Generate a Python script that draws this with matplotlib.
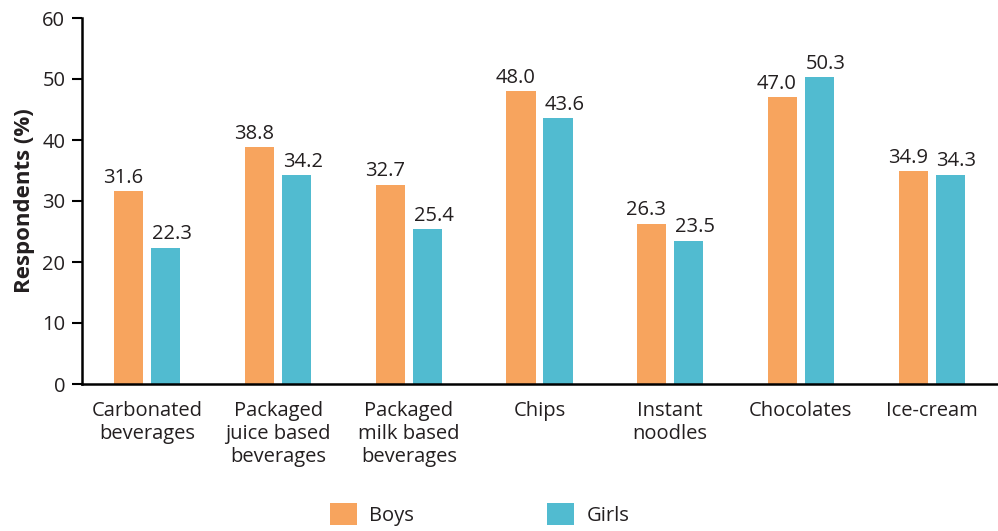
import matplotlib
matplotlib.use("Agg")
import matplotlib.pyplot as plt
import numpy as np

categories = ["Carbonated\nbeverages", "Packaged\njuice based\nbeverages", "Packaged\nmilk based\nbeverages",
              "Chips", "Instant\nnoodles", "Chocolates", "Ice-cream"]
boys = [31.6, 38.8, 32.7, 48.0, 26.3, 47.0, 34.9]
girls = [22.3, 34.2, 25.4, 43.6, 23.5, 50.3, 34.3]
series_names = ["Boys", "Girls"]
yticks = [0, 10, 20, 30, 40, 50, 60]

plt.rcParams['font.family'] = ['Open Sans', 'DejaVu Sans']
c_boys = "#F7A45E"
c_girls = "#51BBD0"
text_c = "#231F20"

fig = plt.figure(figsize=(9.98, 5.31), dpi=100)
ax = fig.add_axes([82/998, 1-384/531, 915/998, 366/531])

x = np.arange(len(categories))
w = 0.222
off = 0.1415
b1 = ax.bar(x - off, boys, w, color=c_boys, label=series_names[0])
b2 = ax.bar(x + off, girls, w, color=c_girls, label=series_names[1])
for bars, vals, dx in ((b1, boys, -4), (b2, girls, 4.5)):
    for r, v in zip(bars, vals):
        ax.annotate(f"{v:.1f}", (r.get_x() + r.get_width()/2, v), xytext=(dx, 2.5),
                    textcoords="offset points", ha="center", va="bottom",
                    fontsize=14.5, color=text_c)

ax.set_xlim(-0.5, len(categories) - 0.5)
ax.set_ylim(0, 60)
ax.set_yticks(yticks)
ax.set_xticks(x)
ax.set_xticklabels(categories, fontsize=14.5, color=text_c, linespacing=1.2)
ax.tick_params(axis='x', length=0, pad=12)
ax.tick_params(axis='y', length=7, width=1.5, labelsize=14.5, labelcolor=text_c, pad=5)
for s in ("top", "right"):
    ax.spines[s].set_visible(False)
for s in ("left", "bottom"):
    ax.spines[s].set_linewidth(1.8)
    ax.spines[s].set_color("black")
ax.set_ylabel("Respondents (%)", fontsize=16, fontweight="bold", color=text_c, labelpad=5)

fig.legend(handles=[b1, b2], labels=series_names, loc="lower center", bbox_to_anchor=(0.4805, -0.024),
           ncol=2, frameon=False, fontsize=14.5, handlelength=1.35, handleheight=1.35,
           handletextpad=0.6, columnspacing=6.6, labelcolor=text_c)

fig.savefig("out.png", dpi=100)
